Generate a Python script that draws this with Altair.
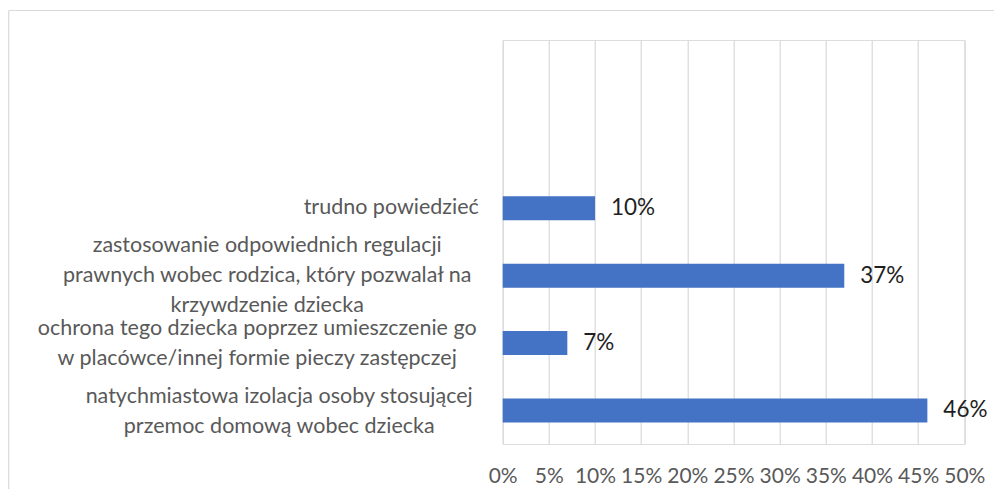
import altair as alt
import pandas as pd

categories = [
    "trudno powiedzieć",
    "zastosowanie odpowiednich regulacji|prawnych wobec rodzica, który pozwalał na|krzywdzenie dziecka",
    "ochrona tego dziecka poprzez umieszczenie go|w placówce/innej formie pieczy zastępczej",
    "natychmiastowa izolacja osoby stosującej|przemoc domową wobec dziecka",
]
values = [0.10, 0.37, 0.07, 0.46]
blank_slots = [" ", "  "]
x_ticks = [0, 0.05, 0.10, 0.15, 0.20, 0.25, 0.30, 0.35, 0.40, 0.45, 0.50]

df = pd.DataFrame({"cat": categories, "val": values})
domain = blank_slots + categories

FONT = "Lato"
W, H = 461.6, 404

label_padding = {
    "condition": [
        {"test": "indexof(datum.value, 'trudno') >= 0", "value": 112},
        {"test": "indexof(datum.value, 'zastosowanie') >= 0", "value": 236},
        {"test": "indexof(datum.value, 'ochrona') >= 0", "value": 246},
    ],
    "value": 224,
}
label_offset = {
    "condition": [
        {"test": "indexof(datum.value, 'zastosowanie') >= 0", "value": -30},
        {"test": "indexof(datum.value, 'ochrona') >= 0", "value": -14},
        {"test": "indexof(datum.value, 'natychmiastowa') >= 0", "value": -13},
    ],
    "value": 0,
}

y_enc = alt.Y(
    "cat:N",
    sort=domain,
    scale=alt.Scale(domain=domain, paddingInner=0.643, paddingOuter=0.32),
    axis=alt.Axis(
        title=None,
        labelExpr="split(datum.label, '|')",
        labelAlign="center",
        labelBaseline="middle",
        labelPadding=label_padding,
        labelOffset=label_offset,
        labelLineHeight=30,
        labelFont=FONT,
        labelFontSize=21.5,
        labelColor="#595959",
        labelLimit=1000,
        labelOverlap=False,
        ticks=False,
        domain=False,
        grid=False,
    ),
)

x_enc = alt.X(
    "val:Q",
    scale=alt.Scale(domain=[0, 0.5], nice=False),
    axis=alt.Axis(
        title=None,
        values=x_ticks,
        format=".0%",
        labelFont=FONT,
        labelFontSize=21,
        labelColor="#595959",
        labelPadding=22,
        labelFlush=False,
        labelOverlap=False,
        ticks=False,
        domain=False,
        grid=True,
        gridColor="#d9d9d9",
        gridWidth=1.2,
    ),
)

base = alt.Chart(df)

bars = base.mark_bar(color="#4472C4").encode(y=y_enc, x=x_enc)

labels = base.mark_text(
    align="left", baseline="middle", dx=16, font=FONT, fontSize=22.5, color="#1f1f1f"
).encode(
    y=alt.Y("cat:N", sort=domain),
    x=alt.X("val:Q"),
    text=alt.Text("val:Q", format=".0%"),
)

frame_top = alt.Chart(pd.DataFrame({"k": [0]})).mark_rule(color="#d9d9d9", strokeWidth=1.2).encode(
    x=alt.value(-494), x2=alt.value(W + 40), y=alt.value(-29.5)
)
frame_left = alt.Chart(pd.DataFrame({"k": [0]})).mark_rule(color="#d9d9d9", strokeWidth=1.2).encode(
    x=alt.value(-494), y=alt.value(-29.5), y2=alt.value(H + 60)
)

chart = (
    alt.layer(bars, labels, frame_top, frame_left)
    .properties(
        width=W,
        height=H,
        autosize=alt.AutoSizeParams(type="none"),
        padding={"left": 494.7, "top": 32, "right": 30, "bottom": 45},
    )
    .configure_view(stroke=None)
    .configure(background="white")
)

chart.save("out.html", embed_options={"renderer": "svg", "actions": False})
